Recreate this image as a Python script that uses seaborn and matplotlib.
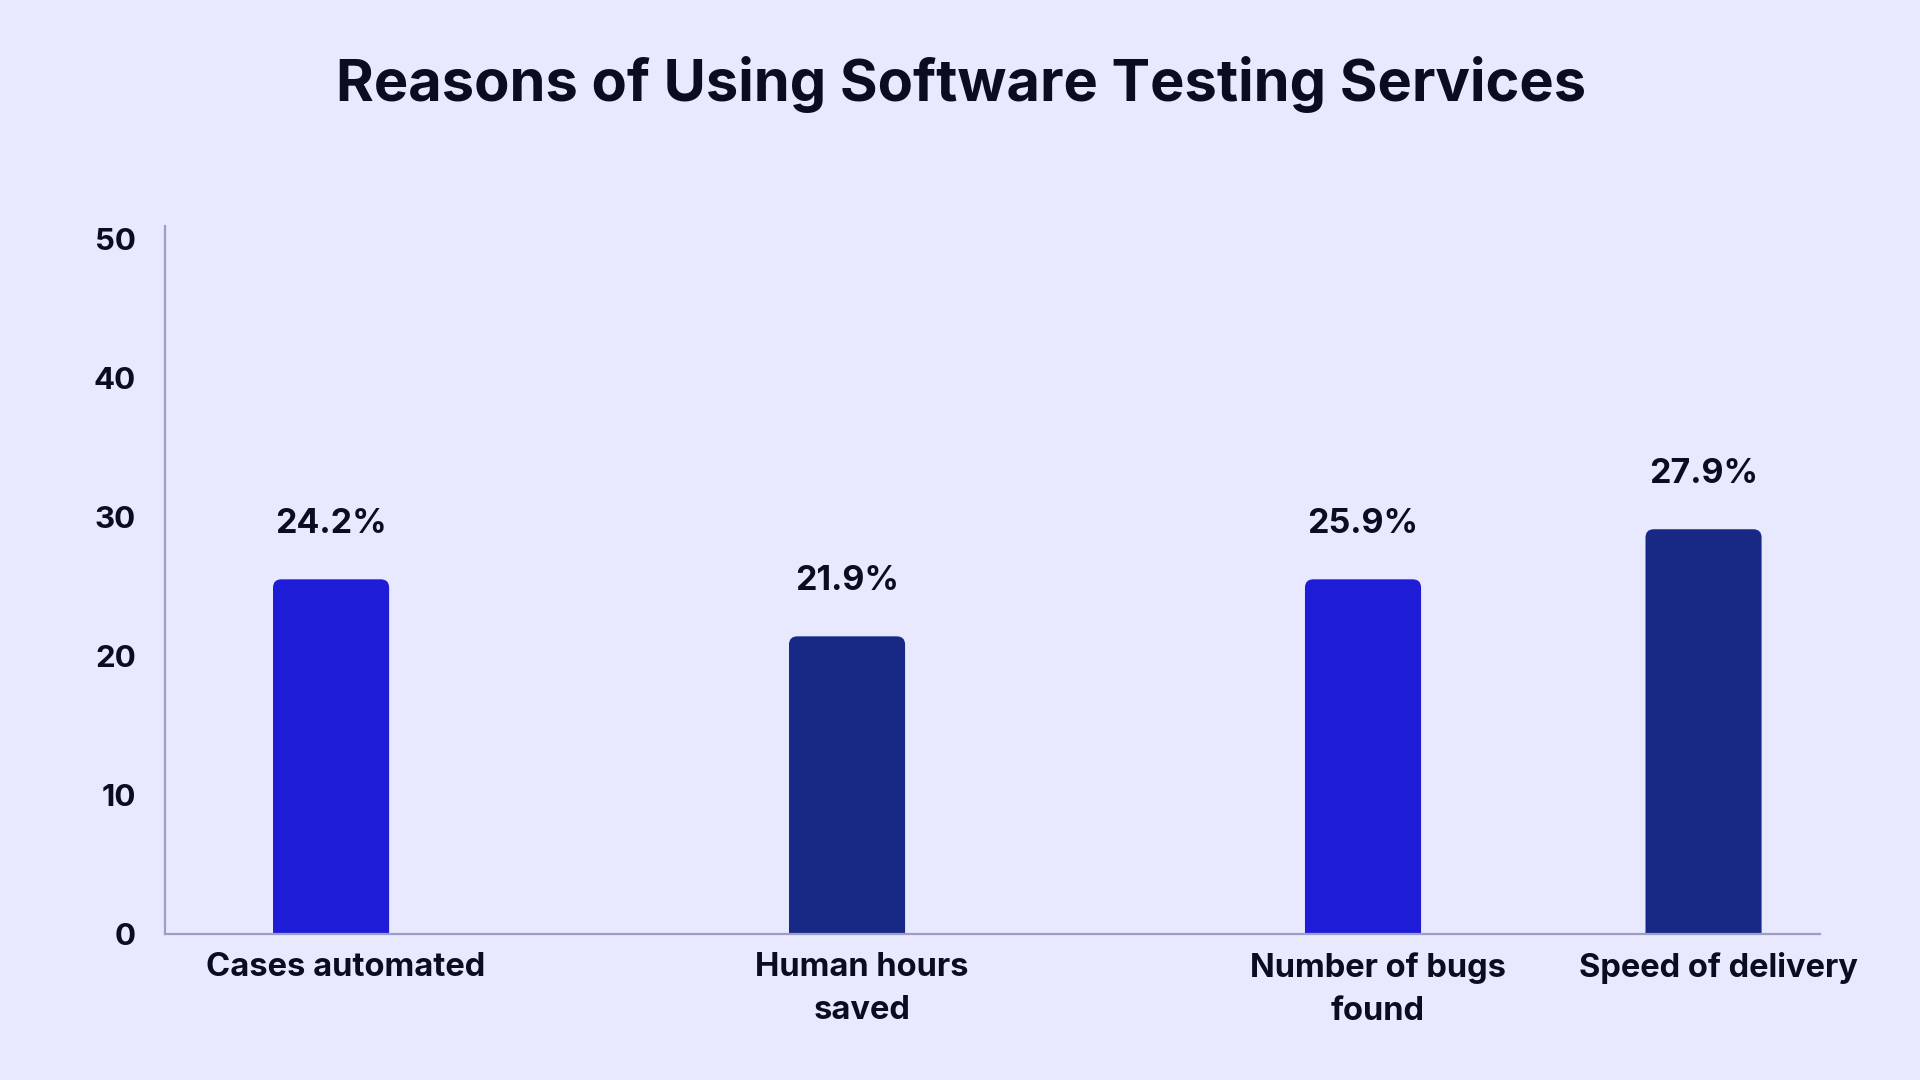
import matplotlib
matplotlib.use("Agg")
import matplotlib.pyplot as plt
import matplotlib.transforms as mtransforms
from matplotlib.patches import FancyBboxPatch
import seaborn as sns
import pandas as pd

# ---- data ----
categories = ["Cases automated", "Human hours\nsaved", "Number of bugs\nfound", "Speed of delivery"]
bar_values = [25.5, 21.4, 25.5, 29.1]
value_labels = ["24.2%", "21.9%", "25.9%", "27.9%"]
y_ticks = [0, 10, 20, 30, 40, 50]

# ---- layout / style ----
bar_positions = [0.0, 1.0, 2.0, 2.66]
bar_colors = ["#1E1CD6", "#172985", "#1E1CD6", "#172985"]
BG = "#E8E9FE"
TEXT = "#0B0B22"
AXIS = "#9E9EC4"
XMIN, XMAX, YMAX = -0.322, 2.886, 50.9

df = pd.DataFrame({"pos": bar_positions, "value": bar_values, "cat": categories})

sns.set_theme(style="white")
plt.rcParams["font.family"] = ["Inter", "DejaVu Sans"]

fig = plt.figure(figsize=(19.2, 10.8), dpi=100, facecolor=BG)
ax = fig.add_axes([0.0859, 0.1352, 0.948 - 0.0859, 0.7907 - 0.1352])
ax.set_facecolor(BG)

sns.barplot(data=df, x="pos", y="value", hue="pos", palette=bar_colors,
            native_scale=True, width=0.225 / 0.66, legend=False, ax=ax,
            saturation=1, linewidth=0)

ax.set_xlim(XMIN, XMAX)
ax.set_ylim(0, YMAX)

# rounded tops (box extended below baseline; clipped by axes)
bbox = ax.get_window_extent()
xpx = bbox.width / (XMAX - XMIN)
ypx = bbox.height / YMAX
aspect = xpx / ypx
ry = 0.6
rx = ry / aspect
for p in list(ax.patches):
    x, y = p.get_x(), p.get_y()
    w, h = p.get_width(), p.get_height()
    fc = p.get_facecolor()
    p.set_visible(False)
    fb = FancyBboxPatch((x, y - 2), w, h + 2, boxstyle=f"round,pad=0,rounding_size={rx}",
                        mutation_aspect=aspect, facecolor=fc, edgecolor="none", zorder=2)
    ax.add_patch(fb)

for pos, val, lab in zip(bar_positions, bar_values, value_labels):
    ax.annotate(lab, xy=(pos, val), xytext=(0, 40), textcoords="offset points",
                ha="center", va="center", fontsize=24.5, fontweight="bold", color=TEXT)

ax.set_xticks(bar_positions)
ax.set_xticklabels(categories, fontsize=23.5, fontweight="bold", color=TEXT, linespacing=1.5)
ax.set_yticks(y_ticks)
ax.set_yticklabels([str(t) for t in y_ticks], fontsize=22.5, fontweight="bold", color=TEXT)
ax.tick_params(axis="x", length=0, pad=13)
ax.tick_params(axis="y", length=0, pad=21)
offset = mtransforms.ScaledTranslation(15 / 100, 0, fig.dpi_scale_trans)
for t in ax.get_xticklabels():
    t.set_transform(t.get_transform() + offset)

ax.set_xlabel("")
ax.set_ylabel("")
for s in ["top", "right"]:
    ax.spines[s].set_visible(False)
for s in ["left", "bottom"]:
    ax.spines[s].set_color(AXIS)
    ax.spines[s].set_linewidth(1.6)
    ax.spines[s].set_zorder(3)

fig.text(0.5005, 0.922, "Reasons of Using Software Testing Services", ha="center", va="center",
         fontsize=41.6, fontweight="bold", color=TEXT)

fig.savefig("out.png", dpi=100, facecolor=BG)
